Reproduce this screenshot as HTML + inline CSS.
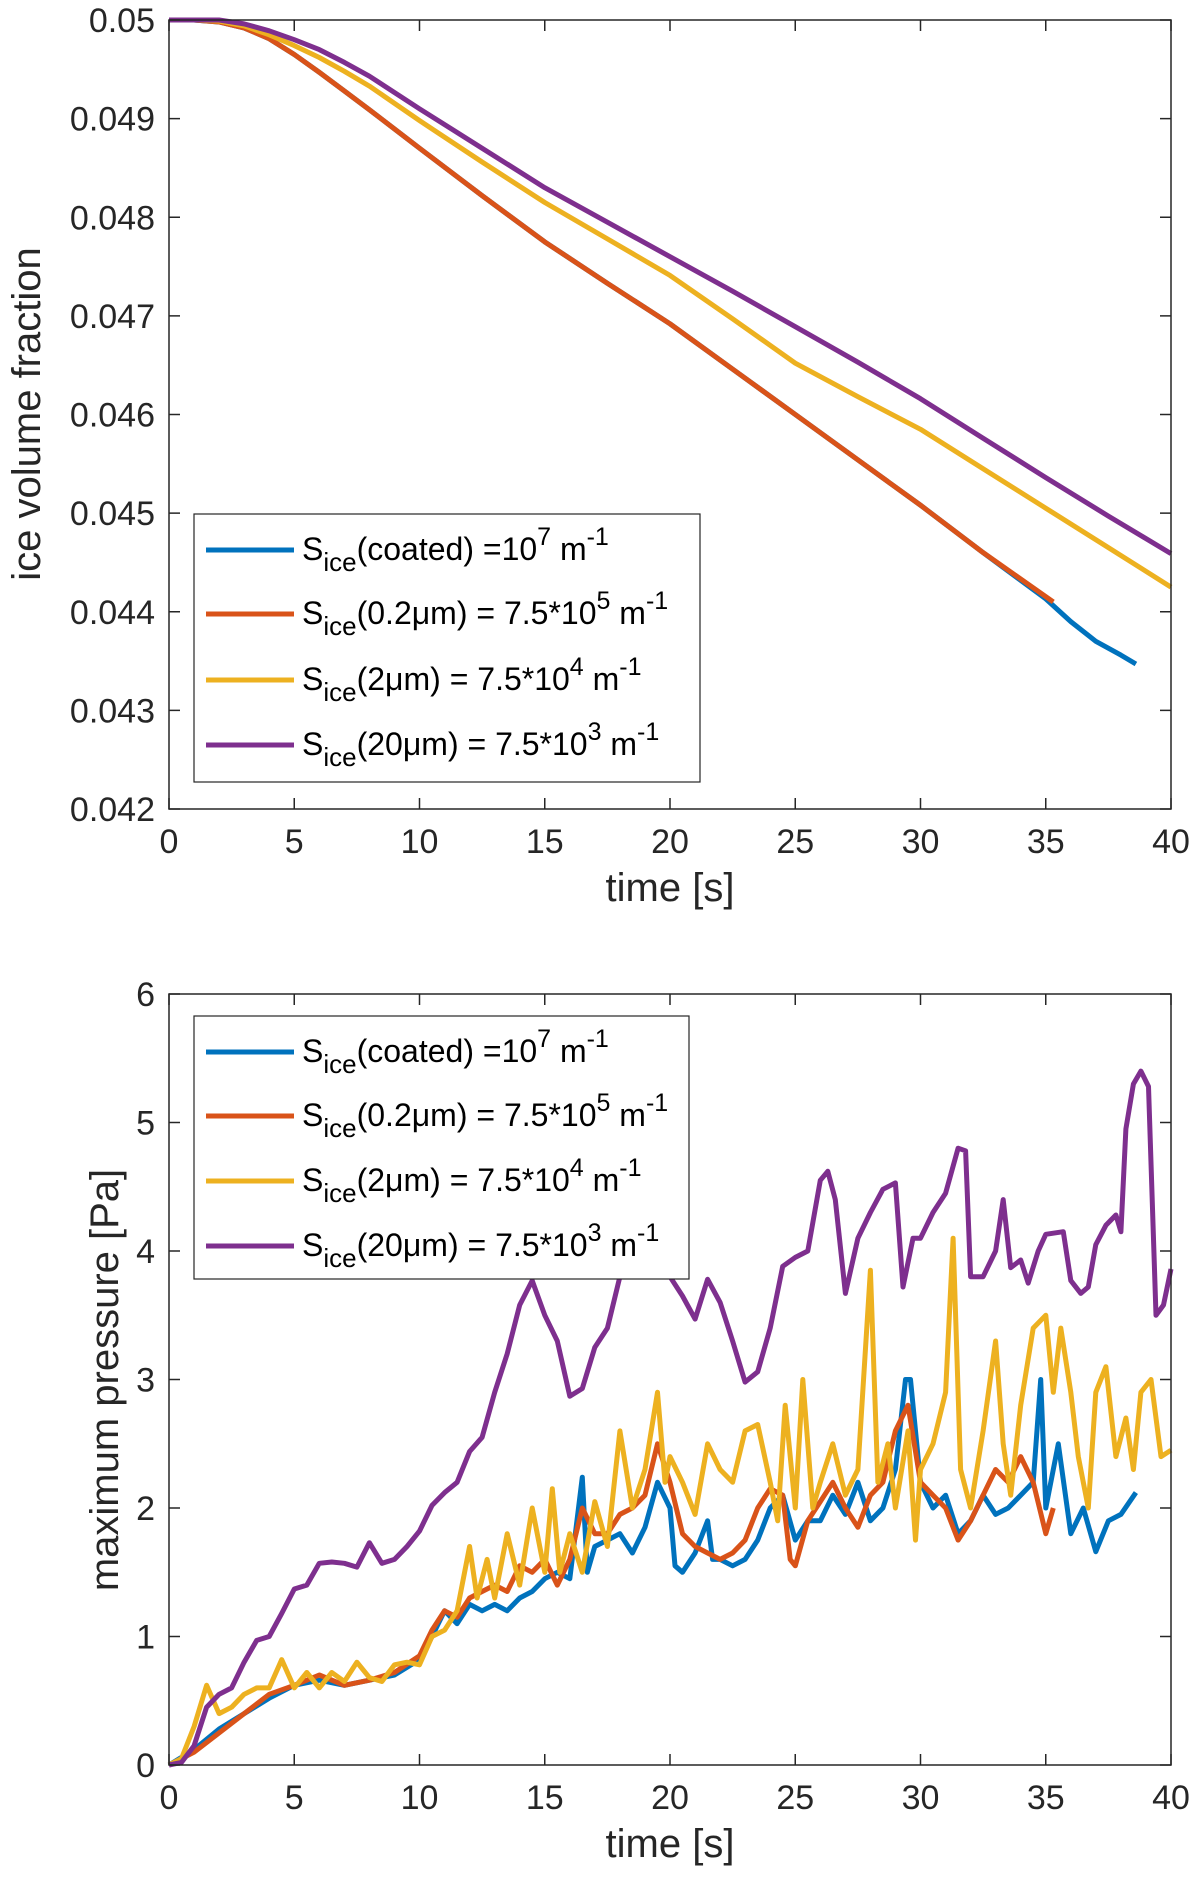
<!DOCTYPE html>
<html><head><meta charset="utf-8"><style>
body{margin:0;background:#fff;}
svg{display:block;font-family:"Liberation Sans",sans-serif;}
</style></head><body>
<svg id="fig" width="1200" height="1888" viewBox="0 0 1200 1888"></svg>
<script>
// ---- Top chart data ----
const topTime = [0,1,2,3,4,5,6,7,8,10,12.5,15,17.5,20,22.5,25,27.5,30,32.5,35];
const topBlue = [0.05,0.05,0.04998,0.04992,0.04981,0.04965,0.04947,0.04928,0.04909,0.0487,0.04822,0.04775,0.04733,0.04692,0.04646,0.046,0.04554,0.04508,0.0446,0.04413];
const topBlueTailT = [35,36,37,38,38.6];
const topBlueTailV = [0.04413,0.0439,0.0437,0.04356,0.04347];
const topRed = [0.05,0.05,0.04998,0.04992,0.04981,0.04965,0.04947,0.04928,0.04909,0.0487,0.04822,0.04775,0.04733,0.04692,0.04646,0.046,0.04554,0.04508,0.0446,0.04413];
const topRedEndT = 35.3;
const topYellowT = [0,1,2,3,4,5,6,7,8,10,12.5,15,17.5,20,22.5,25,27.5,30,32.5,35,37.5,40];
const topYellow = [0.05,0.05,0.04999,0.04994,0.04985,0.04974,0.04962,0.04948,0.04933,0.04898,0.04856,0.04815,0.04778,0.04741,0.04697,0.04652,0.04618,0.04585,0.04545,0.04505,0.04465,0.04425];
const topPurple = [0.05,0.05,0.05,0.04996,0.04989,0.0498,0.0497,0.04957,0.04943,0.0491,0.0487,0.0483,0.04795,0.0476,0.04725,0.04689,0.04653,0.04616,0.04576,0.04536,0.04497,0.04459];
const topYTicks = [0.042,0.043,0.044,0.045,0.046,0.047,0.048,0.049,0.05];
const topYLabels = ["0.042","0.043","0.044","0.045","0.046","0.047","0.048","0.049","0.05"];
const xTicks = [0,5,10,15,20,25,30,35,40];
// ---- Bottom chart data ----
const purpleT = [0,0.5,1,1.5,2,2.5,3,3.5,4,4.5,5,5.5,6,6.5,7,7.5,8,8.5,9,9.5,10,10.5,11,11.5,12,12.5,13,13.5,14,14.5,15,15.5,16,16.5,17,17.5,18,18.5,19,19.5,20,20.5,21,21.5,22,22.5,23,23.5,24,24.5,25,25.5,26,26.3,26.6,27,27.5,28,28.5,29,29.3,29.7,30,30.5,31,31.5,31.8,32,32.5,33,33.3,33.6,34,34.3,34.7,35,35.7,36,36.4,36.7,37,37.4,37.8,38,38.2,38.5,38.8,39.1,39.4,39.7,40];
const purpleV = [0,0.02,0.15,0.45,0.55,0.6,0.8,0.97,1.0,1.18,1.37,1.4,1.57,1.58,1.57,1.54,1.73,1.57,1.6,1.7,1.82,2.02,2.12,2.2,2.44,2.55,2.9,3.2,3.58,3.77,3.5,3.3,2.87,2.93,3.25,3.4,3.8,4.0,4.0,3.95,3.8,3.65,3.47,3.78,3.6,3.3,2.98,3.06,3.4,3.88,3.95,4.0,4.55,4.62,4.4,3.67,4.1,4.3,4.48,4.53,3.72,4.1,4.1,4.3,4.45,4.8,4.78,3.8,3.8,4.0,4.4,3.87,3.93,3.75,4.0,4.13,4.15,3.77,3.67,3.72,4.05,4.2,4.28,4.15,4.95,5.3,5.4,5.28,3.5,3.58,3.86];
const blueT = [0,1,2,3,4,5,6,7,8,9,10,10.5,11,11.5,12,12.5,13,13.5,14,14.5,15,15.5,16,16.5,16.7,17,17.5,18,18.5,19,19.5,20,20.2,20.5,21,21.5,21.7,22,22.5,23,23.5,24,24.5,25,25.5,26,26.5,27,27.5,28,28.5,29,29.4,29.6,30,30.5,31,31.5,32,32.5,33,33.5,34,34.5,34.8,35,35.5,36,36.5,37,37.5,38,38.6];
const blueV = [0,0.12,0.28,0.4,0.52,0.62,0.66,0.62,0.66,0.7,0.82,1.0,1.2,1.1,1.25,1.2,1.25,1.2,1.3,1.35,1.45,1.5,1.45,2.24,1.5,1.7,1.75,1.8,1.65,1.85,2.2,2.0,1.55,1.5,1.65,1.9,1.6,1.6,1.55,1.6,1.75,2.0,2.1,1.75,1.9,1.9,2.1,1.95,2.2,1.9,2.0,2.3,3.0,3.0,2.2,2.0,2.1,1.8,1.9,2.1,1.95,2.0,2.1,2.2,3.0,2.0,2.5,1.8,2.0,1.66,1.9,1.95,2.12];
const redT = [0,1,2,3,4,5,6,7,8,9,10,10.5,11,11.5,12,12.5,13,13.5,14,14.5,15,15.5,16,16.5,17,17.5,18,18.5,19,19.5,20,20.5,21,21.5,22,22.5,23,23.5,24,24.5,24.8,25,25.5,26,26.5,27,27.5,28,28.5,29,29.5,30,30.5,31,31.5,32,32.5,33,33.5,34,34.5,35,35.3];
const redV = [0,0.1,0.25,0.4,0.55,0.62,0.7,0.62,0.66,0.72,0.85,1.05,1.2,1.15,1.3,1.35,1.4,1.35,1.55,1.5,1.6,1.4,1.6,2.0,1.8,1.8,1.95,2.0,2.1,2.5,2.2,1.8,1.7,1.65,1.6,1.65,1.75,2.0,2.15,2.1,1.6,1.55,1.9,2.05,2.2,2.0,1.85,2.1,2.2,2.6,2.8,2.2,2.1,2.0,1.75,1.9,2.1,2.3,2.2,2.4,2.2,1.8,2.0];
const yellowT = [0,0.5,1,1.5,2,2.5,3,3.5,4,4.5,5,5.5,6,6.5,7,7.5,8,8.5,9,9.5,10,10.5,11,11.5,12,12.3,12.7,13,13.5,14,14.5,15,15.3,15.6,16,16.5,17,17.5,18,18.5,19,19.5,19.8,20,20.5,21,21.5,22,22.5,23,23.5,24,24.3,24.6,25,25.3,25.7,26,26.5,27,27.5,28,28.3,28.7,29,29.5,29.8,30,30.5,31,31.3,31.6,32,32.5,33,33.3,33.6,34,34.5,35,35.3,35.6,36,36.3,36.7,37,37.4,37.8,38.2,38.5,38.8,39.2,39.6,40];
const yellowV = [0,0.05,0.3,0.62,0.4,0.45,0.55,0.6,0.6,0.82,0.6,0.72,0.6,0.72,0.65,0.8,0.68,0.65,0.78,0.8,0.78,1.0,1.05,1.2,1.7,1.3,1.6,1.3,1.8,1.4,2.0,1.5,2.15,1.5,1.8,1.5,2.05,1.7,2.6,2.0,2.3,2.9,2.2,2.4,2.2,1.95,2.5,2.3,2.2,2.6,2.65,2.2,1.9,2.8,2.0,3.0,2.0,2.2,2.5,2.1,2.3,3.85,2.2,2.5,2.0,2.6,1.75,2.3,2.5,2.9,4.1,2.3,2.0,2.6,3.3,2.5,2.1,2.8,3.4,3.5,2.9,3.4,2.9,2.4,2.0,2.9,3.1,2.4,2.7,2.3,2.9,3.0,2.4,2.45];
const botYTicks = [0,1,2,3,4,5,6];
const legendLabels = [["(coated) =10","7"," m","-1"],["(0.2\u03bcm) = 7.5*10","5"," m","-1"],["(2\u03bcm) = 7.5*10","4"," m","-1"],["(20\u03bcm) = 7.5*10","3","  m","-1"]];
const colors = ["#0072BD","#D95319","#EDB120","#7E2F8E"];

const NS="http://www.w3.org/2000/svg";
const svg=document.getElementById('fig');
function mk(tag,attrs,parent){const e=document.createElementNS(NS,tag);for(const k in attrs)e.setAttribute(k,attrs[k]);(parent||svg).appendChild(e);return e;}

function axes(cfg){
  const g=mk('g',{});
  
  
  const {L,R,T,B,xmin,xmax,ymin,ymax}=cfg;
  const sx=v=>L+(v-xmin)/(xmax-xmin)*(R-L);
  const sy=v=>B-(v-ymin)/(ymax-ymin)*(B-T);
  mk('rect',{x:L,y:T,width:R-L,height:B-T,fill:'#fff',stroke:'none'},g);
  cfg.series.forEach((s,i)=>{
    let d='';
    s.t.forEach((t,j)=>{d+=(j?'L':'M')+sx(t).toFixed(1)+' '+sy(s.v[j]).toFixed(1);});
    const p=mk('path',{d:d,fill:'none',stroke:s.c,'stroke-width':5,'stroke-linejoin':'round'},g);
    
    
  });
  mk('rect',{x:L,y:T,width:R-L,height:B-T,fill:'none',stroke:'#262626','stroke-width':1.5},g);
  const tl=11;
  xTicks.forEach(v=>{
    const x=sx(v);
    mk('line',{x1:x,y1:B,x2:x,y2:B-tl,stroke:'#262626','stroke-width':1.5},g);
    mk('line',{x1:x,y1:T,x2:x,y2:T+tl,stroke:'#262626','stroke-width':1.5},g);
    const t=mk('text',{x:x,y:B+44,'font-size':34,fill:'#262626','text-anchor':'middle'},g);
    t.textContent=String(v);
    
    
  });
  cfg.yt.forEach((v,i)=>{
    const y=sy(v);
    mk('line',{x1:L,y1:y,x2:L+tl,y2:y,stroke:'#262626','stroke-width':1.5},g);
    mk('line',{x1:R,y1:y,x2:R-tl,y2:y,stroke:'#262626','stroke-width':1.5},g);
    const t=mk('text',{x:L-14,y:y+12,'font-size':34,fill:'#262626','text-anchor':'end'},g);
    t.textContent=cfg.yl[i];
    
    
  });
  const xt=mk('text',{x:(L+R)/2,y:B+92,'font-size':40,fill:'#262626','text-anchor':'middle'},g);
  xt.textContent='time [s]';
  
  
  const yt=mk('text',{x:0,y:0,'font-size':40,fill:'#262626','text-anchor':'middle',transform:`translate(${cfg.ylx},${cfg.yly}) rotate(-90)`},g);
  yt.textContent=cfg.ytitle;
  
  
  const lg=mk('g',{},g);
  
  
  const lb=cfg.leg;
  mk('rect',{x:lb.x,y:lb.y,width:lb.w,height:lb.h,fill:'#fff',stroke:'#262626','stroke-width':1.2},lg);
  legendLabels.forEach((lab,i)=>{
    const ey=lb.rows[i];
    const eg=mk('g',{},lg);
    
    
    mk('line',{x1:lb.x+12,y1:ey,x2:lb.x+100,y2:ey,stroke:colors[i],'stroke-width':5},eg);
    const t=mk('text',{x:lb.x+108,y:ey+10,'font-size':32,fill:'#000'},eg);
    const parts=[['S',0,32],['ice',11,26],[lab[0],-11,32],[lab[1],-15,25],[lab[2],15,32],[lab[3],-15,25]];
    parts.forEach(p=>{const ts=mk('tspan',{dy:p[1],'font-size':p[2]},t);ts.textContent=p[0];});
  });
}

axes({name:'ice-volume-chart',L:169,R:1171,T:20,B:809,xmin:0,xmax:40,ymin:0.042,ymax:0.05,
  yt:topYTicks,yl:topYLabels,ytitle:'ice volume fraction',ylx:40,yly:414,
  series:[
    {t:topTime.concat(topBlueTailT.slice(1)),v:topBlue.concat(topBlueTailV.slice(1)),c:colors[0],n:'series-coated'},
    {t:topTime.slice(0,-1).concat([topRedEndT]),v:topRed.slice(0,-1).concat([0.0441]),c:colors[1],n:'series-0.2um'},
    {t:topYellowT,v:topYellow,c:colors[2],n:'series-2um'},
    {t:topYellowT,v:topPurple,c:colors[3],n:'series-20um'}],
  leg:{x:194,y:514,w:506,h:268,rows:[550,614,680,745]}});

axes({name:'max-pressure-chart',L:169,R:1171,T:994,B:1765,xmin:0,xmax:40,ymin:0,ymax:6,
  yt:botYTicks,yl:botYTicks.map(String),ytitle:'maximum pressure [Pa]',ylx:118,yly:1380,
  series:[
    {t:blueT,v:blueV,c:colors[0],n:'series-coated'},
    {t:redT,v:redV,c:colors[1],n:'series-0.2um'},
    {t:yellowT,v:yellowV,c:colors[2],n:'series-2um'},
    {t:purpleT,v:purpleV,c:colors[3],n:'series-20um'}],
  leg:{x:194,y:1016,w:495,h:263,rows:[1052,1116,1181,1246]}});
</script>
</body></html>
